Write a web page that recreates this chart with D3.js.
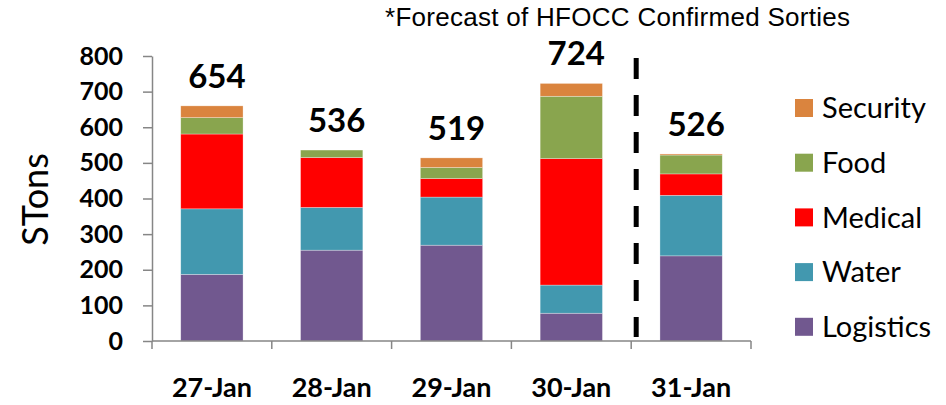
<!DOCTYPE html>
<html>
<head>
<meta charset="utf-8">
<script src="https://cdn.jsdelivr.net/npm/d3@7"></script>
<style>
  html, body { margin: 0; padding: 0; background: #fff; }
  svg { display: block; }
</style>
</head>
<body>
<div id="chart"></div>
<script>
// categories (days) and stacked series
const days = ["27-Jan", "28-Jan", "29-Jan", "30-Jan", "31-Jan"];
const seriesNames = ["Logistics", "Water", "Medical", "Food", "Security"];
const logistics = [187, 255, 269, 78, 239];
const water     = [184, 120, 135, 79, 170];
const medical   = [210, 140, 52, 355, 60];
const food      = [46, 21, 31, 175, 53];
const security  = [33, 0, 27, 36, 3];
const totalLabels = [654, 536, 519, 724, 526];
const yTicks = [0, 100, 200, 300, 400, 500, 600, 700, 800];
const legendOrder = ["Security", "Food", "Medical", "Water", "Logistics"];
const colors = {
  Logistics: "#71588F",
  Water: "#4298AF",
  Medical: "#FF0000",
  Food: "#89A54E",
  Security: "#DA843E"
};

const width = 946, height = 405;
const margin = { top: 56, right: 195, bottom: 64, left: 152 };
const font = "Lato, 'Open Sans', sans-serif";

const svg = d3.select("#chart").append("svg")
  .attr("width", width)
  .attr("height", height);

const x = d3.scaleBand()
  .domain(days)
  .range([margin.left, width - margin.right])
  .padding(0);

const y = d3.scaleLinear()
  .domain([0, 800])
  .range([height - margin.bottom, margin.top]);

const rows = days.map((d, i) => ({
  day: d,
  Logistics: logistics[i],
  Water: water[i],
  Medical: medical[i],
  Food: food[i],
  Security: security[i]
}));

const stacked = d3.stack().keys(seriesNames)(rows);
const barW = x.bandwidth() * 0.52;

// bars
svg.append("g")
  .selectAll("g")
  .data(stacked)
  .join("g")
  .attr("fill", s => colors[s.key])
  .selectAll("rect")
  .data(s => s)
  .join("rect")
  .attr("x", d => x(d.data.day) + (x.bandwidth() - barW) / 2)
  .attr("y", d => y(d[1]))
  .attr("width", barW)
  .attr("height", d => y(d[0]) - y(d[1]))
  .attr("stroke", "#fff")
  .attr("stroke-opacity", 0.5)
  .attr("stroke-width", 0.6);

// axes
const axisColor = "#868686";
const yAxis = svg.append("g")
  .attr("transform", `translate(${margin.left},0)`)
  .call(d3.axisLeft(y).tickValues(yTicks).tickSize(9).tickPadding(20).tickSizeOuter(0));
yAxis.select(".domain").attr("stroke", axisColor).attr("stroke-width", 1.5);
yAxis.selectAll(".tick line").attr("stroke", axisColor).attr("stroke-width", 1.5);
yAxis.selectAll(".tick text")
  .attr("font-family", font)
  .attr("font-weight", 700)
  .attr("font-size", 25)
  .attr("fill", "#000");

const xAxis = svg.append("g")
  .attr("transform", `translate(0,${y(0)})`);
xAxis.append("line")
  .attr("x1", margin.left)
  .attr("x2", width - margin.right)
  .attr("stroke", axisColor)
  .attr("stroke-width", 1.5);
xAxis.selectAll("line.tick")
  .data(days.concat(["end"]))
  .join("line")
  .attr("class", "tick")
  .attr("x1", (d, i) => i < days.length ? x(d) : x.range()[1])
  .attr("x2", (d, i) => i < days.length ? x(d) : x.range()[1])
  .attr("y1", 0)
  .attr("y2", 8)
  .attr("stroke", axisColor)
  .attr("stroke-width", 1.5);
xAxis.selectAll("text")
  .data(days)
  .join("text")
  .attr("x", d => x(d) + x.bandwidth() / 2)
  .attr("y", 56)
  .attr("text-anchor", "middle")
  .attr("font-family", font)
  .attr("font-weight", 700)
  .attr("font-size", 27)
  .text(d => d);

// y axis title
svg.append("text")
  .attr("transform", `translate(48,${(y(0) + y(800)) / 2 + 1}) rotate(-90)`)
  .attr("text-anchor", "middle")
  .attr("font-family", font)
  .attr("font-size", 36)
  .text("STons");

// total labels above bars
const totals = rows.map(r => seriesNames.reduce((s, k) => s + r[k], 0));
svg.append("g")
  .selectAll("text")
  .data(days)
  .join("text")
  .attr("x", d => x(d) + x.bandwidth() / 2 + 5)
  .attr("y", (d, i) => y(totals[i]) - 18)
  .attr("text-anchor", "middle")
  .attr("font-family", font)
  .attr("font-weight", 700)
  .attr("font-size", 33)
  .text((d, i) => totalLabels[i]);

// forecast divider
svg.append("line")
  .attr("x1", x("31-Jan") + 5)
  .attr("x2", x("31-Jan") + 5)
  .attr("y1", y(800) + 2)
  .attr("y2", y(0) - 4)
  .attr("stroke", "#000")
  .attr("stroke-width", 5)
  .attr("stroke-dasharray", "21,16");

// title
svg.append("text")
  .attr("x", 385)
  .attr("y", 26)
  .attr("font-family", "'Liberation Sans', Arial, sans-serif")
  .attr("font-size", 26)
  .attr("textLength", 465)
  .attr("lengthAdjust", "spacing")
  .text("*Forecast of HFOCC Confirmed Sorties");

// legend
const legend = svg.append("g")
  .selectAll("g")
  .data(legendOrder)
  .join("g")
  .attr("transform", (d, i) => `translate(795,${99 + i * 54.7})`);
legend.append("rect")
  .attr("width", 18)
  .attr("height", 18)
  .attr("fill", d => colors[d]);
legend.append("text")
  .attr("x", 27)
  .attr("y", 9)
  .attr("dy", "0.35em")
  .attr("font-family", font)
  .attr("font-size", 29)
  .text(d => d);
</script>
</body>
</html>
